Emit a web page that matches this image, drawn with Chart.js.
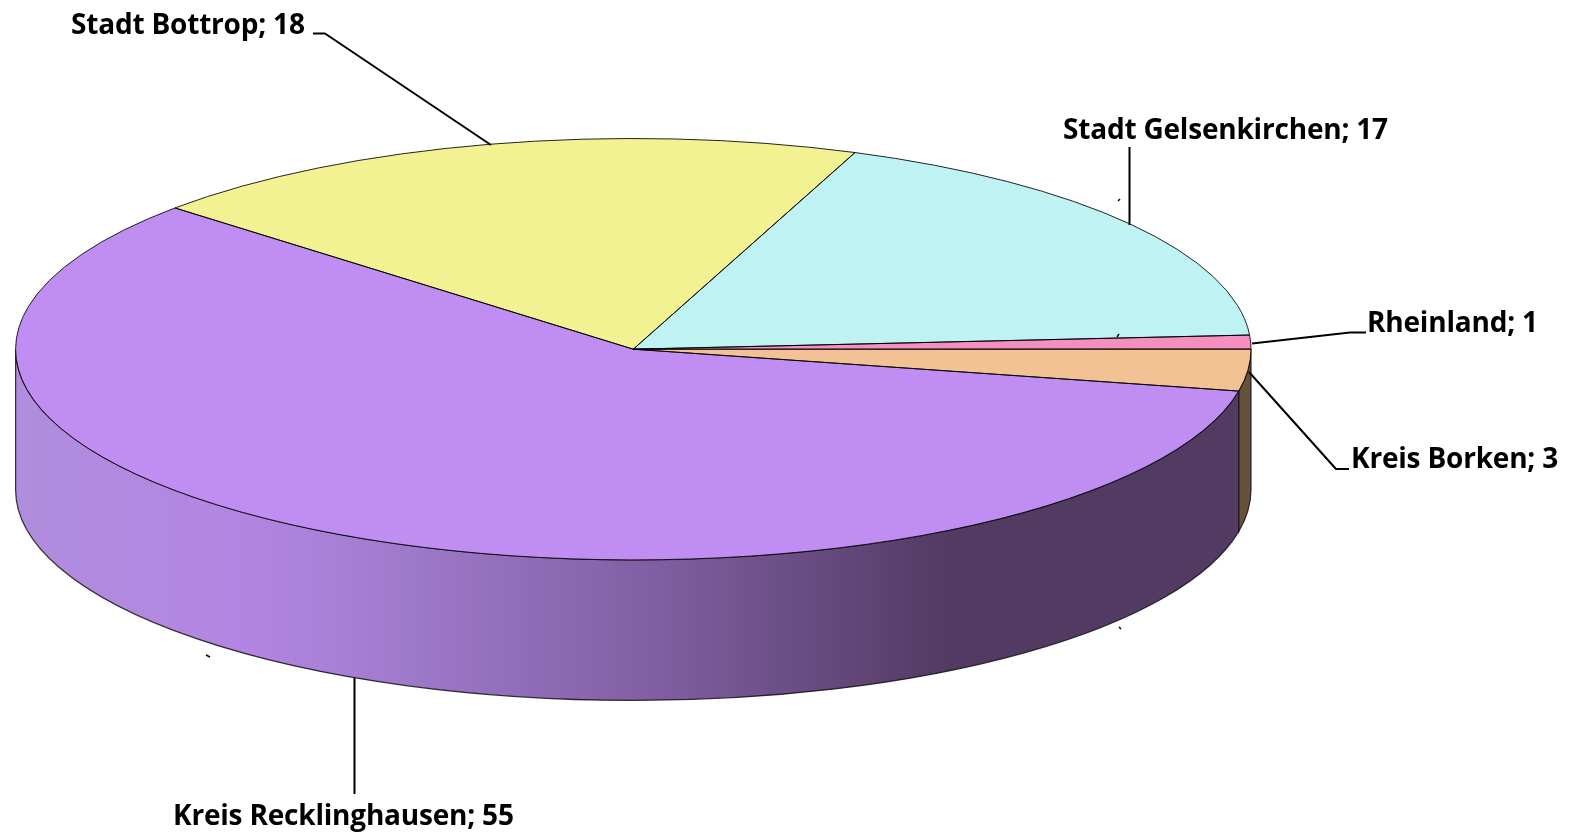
<!DOCTYPE html>
<html><head><meta charset="utf-8">
<style>html,body{margin:0;padding:0;background:#fff}canvas{display:block}</style>
<script src="https://cdn.jsdelivr.net/npm/chart.js@4"></script></head>
<body><div style="width:1573px;height:834px"><canvas id="c" width="1573" height="834"></canvas></div>
<script>
const categories=["Stadt Bottrop","Stadt Gelsenkirchen","Rheinland","Kreis Borken","Kreis Recklinghausen"];
const seriesValues=[18,17,1,3,55];
const topColors=["#f3f292","#bff3f3","#f48fc0","#f2c295","#c08ef3"];
const startDegrees=312.1;

// projection of the disc
const RX=617.7, RY=210.7, DEPTH=140.5;
// side wall shading: [x position, colour]
const purpleStops=[[15,"#b08ddd"],[240,"#b385e2"],[350,"#a67fd3"],[640,"#8360a5"],[950,"#523a63"],[1240,"#523a63"]];
const orangeSide="#66513c";
// label text anchor [x, baseline] and leader polyline
const labelAnchors=[[71,34],[1063,139],[1367,332],[1351,468],[173,825]];
const leaders=[
 [[313,33.5],[325,33.5],[491,145]],
 [[1129.5,147],[1129.5,225]],
 [[1252,343.5],[1350,332.5],[1366,332.5]],
 [[1249,372],[1336,469],[1349,469]],
 [[354.5,678],[354.5,794]]];
const specks=[[1118,201,1120,199],[1117,337,1119,334],[1119,627,1121,629],[206,655,210,657]];

const pie3d={id:'pie3d',
 beforeDatasetDraw(chart){
  const arcs=chart.getDatasetMeta(0).data, ctx=chart.ctx, a0=arcs[0];
  const cx=a0.x,cy=a0.y;
  // side walls
  ctx.save();
  arcs.forEach((arc,i)=>{
   const two=Math.PI*2;
   for(const k of [-1,0,1]){
    const s=Math.max(arc.startAngle+k*two,0), e=Math.min(arc.endAngle+k*two,Math.PI);
    if(e<=s) continue;
    ctx.beginPath();
    ctx.ellipse(cx,cy,RX,RY,0,s,e);
    ctx.ellipse(cx,cy+DEPTH,RX,RY,0,e,s,true);
    ctx.closePath();
    if(i===4){
     const g=ctx.createLinearGradient(15,0,1240,0);
     purpleStops.forEach(p=>g.addColorStop((p[0]-15)/1225,p[1]));
     ctx.fillStyle=g;
    } else ctx.fillStyle=orangeSide;
    ctx.fill();
    ctx.lineWidth=1.2;ctx.strokeStyle='rgba(20,15,20,.85)';ctx.stroke();
   }
  });
  ctx.restore();
  // squash the library's circular slices into the disc ellipse
  ctx.save();
  ctx.translate(cx,cy);
  ctx.scale(RX/a0.outerRadius,RY/a0.outerRadius);
  ctx.translate(-cx,-cy);
 },
 afterDatasetDraw(chart){
  const arcs=chart.getDatasetMeta(0).data, ctx=chart.ctx;
  ctx.restore();
  ctx.save();
  ctx.lineWidth=1;ctx.strokeStyle='rgba(0,0,0,.85)';
  arcs.forEach(arc=>{
   ctx.beginPath();
   ctx.moveTo(arc.x,arc.y);
   ctx.ellipse(arc.x,arc.y,RX,RY,0,arc.startAngle,arc.endAngle);
   ctx.closePath();ctx.stroke();
  });
  ctx.restore();
 },
 afterDraw(chart){
  const ctx=chart.ctx;
  ctx.save();
  ctx.strokeStyle='#000';ctx.lineWidth=2;ctx.lineJoin='round';
  leaders.forEach(l=>{ctx.beginPath();l.forEach((p,i)=>i?ctx.lineTo(p[0],p[1]):ctx.moveTo(p[0],p[1]));ctx.stroke();});
  ctx.lineWidth=1.4;
  specks.forEach(s=>{ctx.beginPath();ctx.moveTo(s[0],s[1]);ctx.lineTo(s[2],s[3]);ctx.stroke();});
  ctx.fillStyle='#000';ctx.font='bold 28px "Open Sans"';ctx.textBaseline='alphabetic';
  ctx.letterSpacing='-0.2px';
  categories.forEach((c,i)=>ctx.fillText(c+'; '+seriesValues[i],labelAnchors[i][0],labelAnchors[i][1]));
  ctx.restore();
 }
};

new Chart(document.getElementById('c'),{
 type:'pie',
 data:{labels:categories,datasets:[{data:seriesValues,backgroundColor:topColors,borderWidth:0,borderColor:'transparent'}]},
 options:{responsive:false,animation:false,rotation:startDegrees,
  layout:{padding:{left:0,top:0,right:306.4,bottom:135.6}},
  plugins:{legend:{display:false},tooltip:{enabled:false},title:{display:false}}},
 plugins:[pie3d]
});
</script></body></html>
